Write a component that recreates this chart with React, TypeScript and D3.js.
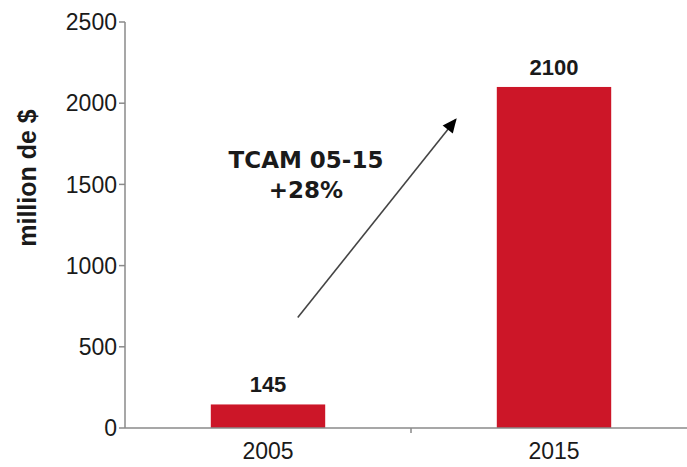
import React from 'react';
import * as d3 from 'd3';

const years = ['2005', '2015'];
const values = [145, 2100];
const yTicks = [0, 500, 1000, 1500, 2000, 2500];
const note = ['TCAM 05-15', '+28%'];

const width = 687;
const height = 467;
const margin = { top: 22, right: -10, bottom: 39, left: 125 };

const App: React.FC = () => {
  const x = d3.scaleBand<string>()
    .domain(years)
    .range([margin.left, width - margin.right])
    .paddingInner(0.6)
    .paddingOuter(0.3);

  const y = d3.scaleLinear()
    .domain([0, 2500])
    .range([height - margin.bottom, margin.top]);

  const y0 = y(0);
  const axisColor = '#8a8a8a';
  const textColor = '#1a1a1a';

  // flèche TCAM, en coordonnées des barres
  const ax1 = x('2005')! + x.bandwidth() * 0.76;
  const ay1 = y(680);
  const ax2 = x('2015')! - 41;
  const ay2 = y(1900);

  return (
    <svg width={width} height={height} style={{ position: 'absolute', left: 0, top: 0 }}
      fontFamily="'Liberation Sans', Arial, sans-serif">
      <defs>
        <marker id="arrow" viewBox="0 0 10 10" refX="9" refY="5" markerWidth="10" markerHeight="9"
          markerUnits="strokeWidth" orient="auto">
          <path d="M0,0.5 L10,5 L0,9.5 z" fill="#000" />
        </marker>
      </defs>
      <rect width={width} height={height} fill="#fff" />

      {values.map((v, i) => (
        <g key={years[i]}>
          <rect x={x(years[i])} y={y(v)} width={x.bandwidth()} height={y0 - y(v)} fill="#cc1628" />
          <text x={x(years[i])! + x.bandwidth() / 2} y={y(v) - 12} textAnchor="middle"
            fontSize={22} fontWeight="bold" fill={textColor}>{v}</text>
          <text x={x(years[i])! + x.bandwidth() / 2} y={y0 + 31} textAnchor="middle"
            fontSize={23} fill={textColor}>{years[i]}</text>
        </g>
      ))}

      {/* axe Y */}
      <line x1={margin.left} x2={margin.left} y1={y(2500)} y2={y0} stroke={axisColor} strokeWidth={1.5} />
      {yTicks.map(t => (
        <g key={t}>
          <line x1={margin.left - 6} x2={margin.left} y1={y(t)} y2={y(t)} stroke={axisColor} strokeWidth={1.5} />
          <text x={margin.left - 8} y={y(t)} dy="0.36em" textAnchor="end" fontSize={23} fill={textColor}>{t}</text>
        </g>
      ))}

      {/* axe X */}
      <line x1={margin.left} x2={width} y1={y0} y2={y0} stroke={axisColor} strokeWidth={1.5} />
      <line x1={x('2015')! - x.step() * 0.3} x2={x('2015')! - x.step() * 0.3} y1={y0} y2={y0 + 5}
        stroke={axisColor} strokeWidth={1.5} />

      <text transform={`translate(36,${(y(2500) + y0) / 2 - 47}) rotate(-90)`} textAnchor="middle"
        fontSize={25} fontWeight="bold" fill={textColor}>million de $</text>

      <line x1={ax1} y1={ay1} x2={ax2} y2={ay2} stroke="#444" strokeWidth={1.6} markerEnd="url(#arrow)" />

      {note.map((t, i) => (
        <text key={t} x={306} y={168 + i * 30} textAnchor="middle" fontFamily="'DejaVu Sans', Verdana, sans-serif"
          fontSize={23} fontWeight="bold" fill={textColor}>{t}</text>
      ))}
    </svg>
  );
};

export default App;
